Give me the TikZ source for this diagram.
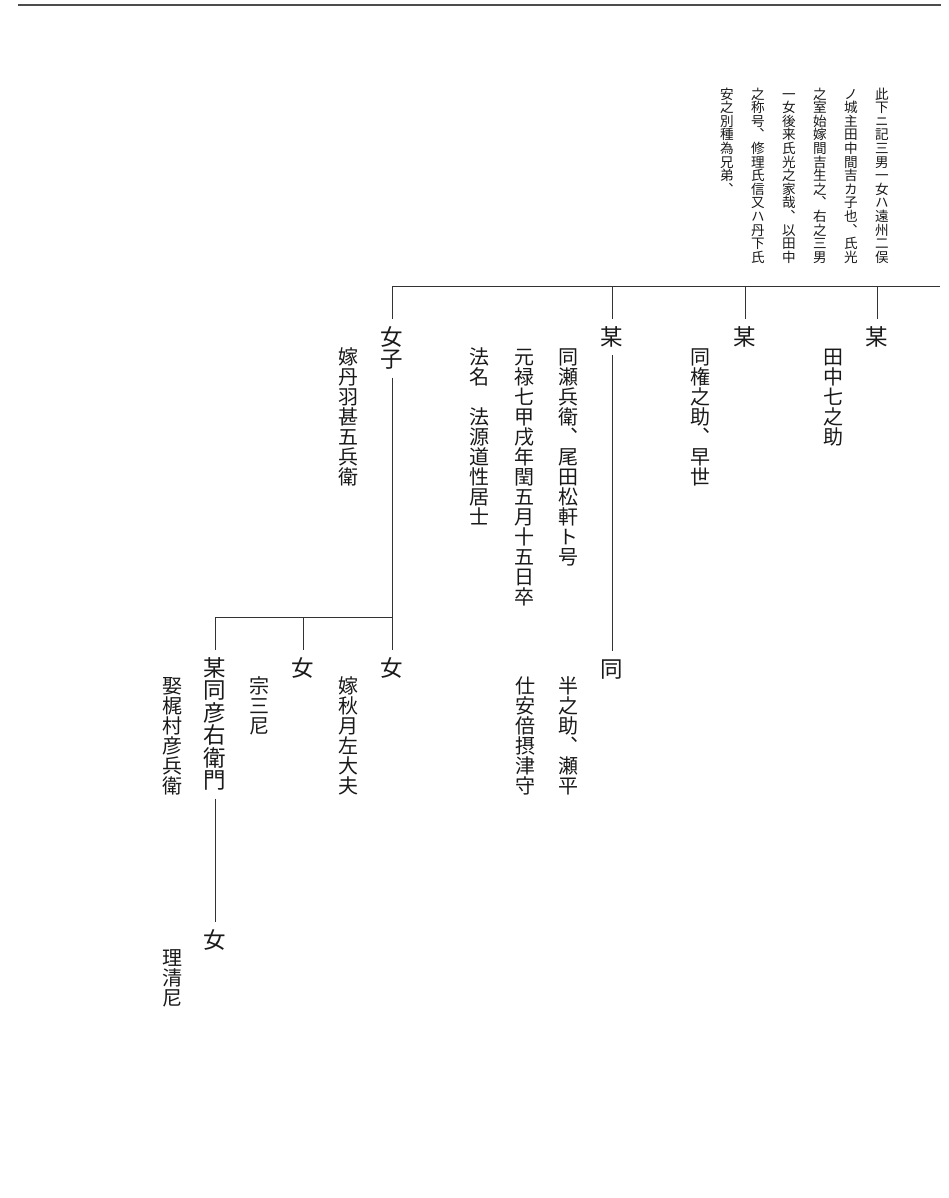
\documentclass[tikz,border=0pt]{standalone}
\usepackage{fontspec}
\newfontfamily\cjk[RawFeature={+vert}]{Noto Sans CJK JP}

% one glyph per line, top to bottom
\makeatletter
\newif\iftate@afterkuten
\def\tate@kuten{、}
\def\tate@zenkaku{　}
\newcommand\tate[1]{%
  \vbox{\baselineskip=1em \lineskip=0pt \lineskiplimit=-\maxdimen
    \tate@afterkutenfalse
    \@tfor\tate@c:=#1\do{\tate@put}}}
\def\tate@put{%
  \ifx\tate@c\tate@zenkaku
    \iftate@afterkuten\else\tate@box\fi
  \else
    \tate@box
  \fi
  \ifx\tate@c\tate@kuten\tate@afterkutentrue\else\tate@afterkutenfalse\fi}
\def\tate@box{\hbox to 1em{\hss\vrule height.88em depth.12em width0pt\tate@c\hss}}
\makeatother

\begin{document}
\begin{tikzpicture}[x=1pt, y=-1pt,
    lab/.style={inner sep=0pt, outer sep=7pt, text=black!90,
      font=\cjk\fontsize{22.5}{22.5}\selectfont},
    note/.style={inner sep=0pt, anchor=north, text=black!90,
      font=\cjk\fontsize{20}{20}\selectfont},
    topnote/.style={inner sep=0pt, anchor=north, text=black!90,
      font=\cjk\fontsize{13.6}{13.6}\selectfont},
    line/.style={draw=black!80, line width=0.8pt}]
    \useasboundingbox (0,0) rectangle (949,1198);

    % rule at the head of the page
    \coordinate (ruleL) at (18,5);
    \coordinate (ruleR) at (941,5);
    \draw[draw=black!70, line width=1.3pt] (ruleL) -- (ruleR);

    % note above the bar
    \node[topnote] (top1) at (882,87) {\tate{此下ニ記三男一女ハ遠州二俣}};
    \node[topnote] (top2) at (851,87) {\tate{ノ城主田中間吉カ子也、　氏光}};
    \node[topnote] (top3) at (820,87) {\tate{之室始嫁間吉生之、　右之三男}};
    \node[topnote] (top4) at (789,87) {\tate{一女後来氏光之家哉、　以田中}};
    \node[topnote] (top5) at (758,87) {\tate{之称号、　修理氏信又ハ丹下氏}};
    \node[topnote] (top6) at (727,87) {\tate{安之別種為兄弟、}};

    % children
    \node[lab] (bou1) at (877,337) {\tate{某}};
    \node[lab] (bou2) at (745,337) {\tate{某}};
    \node[lab] (bou3) at (612,337) {\tate{某}};
    \node[lab] (nyoshi) at (392,348) {\tate{女子}};
    \node[lab] (dou) at (612,669) {\tate{同}};
    \node[lab] (jo1) at (392,668) {\tate{女}};
    \node[lab] (jo2) at (303,668) {\tate{女}};
    \node[lab] (bou4) at (215,724) {\tate{某同彦右衛門}};
    \node[lab] (jo3) at (215,940) {\tate{女}};

    % notes beside them
    \node[note] (tanaka) at (833,347) {\tate{田中七之助}};
    \node[note] (gon) at (700,347) {\tate{同権之助、　早世}};
    \node[note] (sebei) at (568,347) {\tate{同瀬兵衛、　尾田松軒ト号}};
    \node[note] (genroku) at (524,347) {\tate{元禄七甲戌年閏五月十五日卒}};
    \node[note] (houmyou) at (479,347) {\tate{法名　法源道性居士}};
    \node[note] (niwa) at (348,347) {\tate{嫁丹羽甚五兵衛}};
    \node[note] (hannosuke) at (568,676) {\tate{半之助、　瀬平}};
    \node[note] (abe) at (525,676) {\tate{仕安倍摂津守}};
    \node[note] (akizuki) at (348,676) {\tate{嫁秋月左大夫}};
    \node[note] (sou) at (259,676) {\tate{宗三尼}};
    \node[note] (kajimura) at (172,676) {\tate{娶梶村彦兵衛}};
    \node[note] (risei) at (172,948) {\tate{理清尼}};

    % lines
    \coordinate (barR) at (940,286);
    \coordinate (subR) at (392,617);
    \draw[line] (barR) -- (nyoshi |- barR) -- (nyoshi);
    \draw[line] (bou1 |- barR) -- (bou1);
    \draw[line] (bou2 |- barR) -- (bou2);
    \draw[line] (bou3 |- barR) -- (bou3) -- (dou);
    \draw[line] (nyoshi) -- (jo1);
    \draw[line] (subR) -- (bou4 |- subR) -- (bou4) -- (jo3);
    \draw[line] (jo2 |- subR) -- (jo2);
\end{tikzpicture}
\end{document}
